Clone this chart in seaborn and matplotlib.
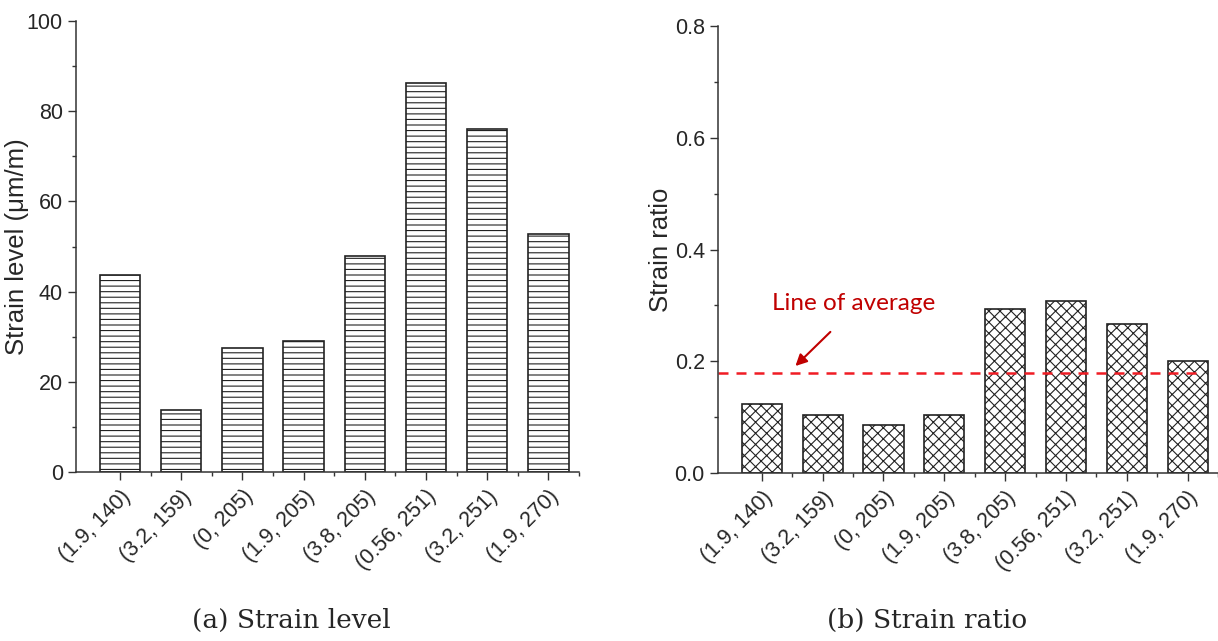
import numpy as np
import pandas as pd
import seaborn as sns
import matplotlib.pyplot as plt
from matplotlib.ticker import MultipleLocator

# data
cases = ['(1.9, 140)', '(3.2, 159)', '(0, 205)', '(1.9, 205)',
         '(3.8, 205)', '(0.56, 251)', '(3.2, 251)', '(1.9, 270)']
strain_level = [43.6, 13.8, 27.5, 29.0, 47.9, 86.3, 76.0, 52.8]
strain_ratio = [0.124, 0.103, 0.086, 0.103, 0.293, 0.308, 0.267, 0.200]
avg_ratio = 0.179

sns.set_style('ticks')
plt.rcParams['font.family'] = ['Liberation Sans Narrow', 'Liberation Sans', 'DejaVu Sans']
plt.rcParams['hatch.linewidth'] = 0.8

fig = plt.figure(figsize=(12.18, 6.41), dpi=100)
ax1 = fig.add_axes([76/1218, 1-472/641, (579-76)/1218, (472-21)/641])
ax2 = fig.add_axes([718/1218, 1-473/641, (1218-718)/1218, (473-26)/641])

df = pd.DataFrame({'case': cases, 'level': strain_level, 'ratio': strain_ratio})

sns.barplot(data=df, x='case', y='level', ax=ax1, color='white', edgecolor='#222222',
            linewidth=1.2, hatch='---', width=0.66)
sns.barplot(data=df, x='case', y='ratio', ax=ax2, color='white', edgecolor='#222222',
            linewidth=1.2, hatch='xxx', width=0.66)

def style_axis(ax, top, major, minor):
    ax.set_xlim(-0.72, 7.5)
    ax.set_ylim(0, top)
    ax.yaxis.set_major_locator(MultipleLocator(major))
    ax.yaxis.set_minor_locator(MultipleLocator(minor))
    ax.set_xticks(np.arange(len(cases)))
    ax.set_xticks(np.arange(len(cases)) + 0.5, minor=True)
    ax.set_xticklabels(cases, rotation=45, ha='right', rotation_mode='anchor', fontsize=15.5)
    ax.tick_params(axis='both', which='major', direction='out', length=6, width=1,
                   color='#333333', labelsize=15.5)
    ax.tick_params(axis='both', which='minor', direction='out', length=3, width=1,
                   color='#333333')
    ax.tick_params(axis='x', which='major', pad=4)
    for s in ['top', 'right']:
        ax.spines[s].set_visible(False)
    for s in ['left', 'bottom']:
        ax.spines[s].set_color('#333333')
        ax.spines[s].set_linewidth(1.1)
    ax.set_xlabel('')

style_axis(ax1, 100, 20, 10)
style_axis(ax2, 0.8, 0.2, 0.1)
ax2.yaxis.set_major_formatter(plt.FormatStrFormatter('%.1f'))

ax1.set_ylabel('Strain level (μm/m)', fontsize=18.5, family=['Liberation Sans', 'DejaVu Sans'])
ax1.yaxis.set_label_coords(-0.093, 0.5)
ax2.set_ylabel('Strain ratio', fontsize=18.5, family=['Liberation Sans', 'DejaVu Sans'])
ax2.yaxis.set_label_coords(-0.09, 0.5)

# average line with annotation
ax2.plot([-0.72, 7.15], [avg_ratio, avg_ratio], color='#f01c24', lw=1.8, ls=(0, (4, 3.2)))
ax2.annotate('', xy=(0.52, 0.188), xytext=(1.16, 0.256),
             arrowprops=dict(arrowstyle='-|>', color='#c00000', lw=1.5, mutation_scale=17))
ax2.text(0.16, 0.304, 'Line of average', color='#c00000', fontsize=17.5,
         family=['Lato', 'DejaVu Sans'], va='center', ha='left')

fig.text(291/1218, 1-620/641, '(a) Strain level', fontsize=19, ha='center', va='center',
         family=['DejaVu Serif'])
fig.text(927/1218, 1-620/641, '(b) Strain ratio', fontsize=19, ha='center', va='center',
         family=['DejaVu Serif'])

fig.savefig('out.png', dpi=100)
